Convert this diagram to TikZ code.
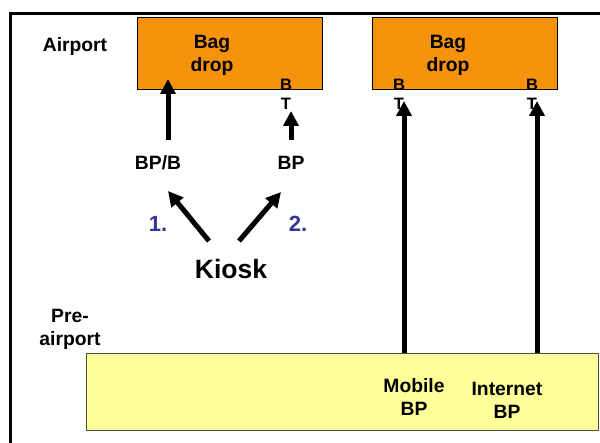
\documentclass[tikz,border=0pt]{standalone}
\usepackage{fontspec}
\setmainfont{Liberation Sans}
\usetikzlibrary{arrows.meta}
\definecolor{bagorange}{RGB}{247,146,12}
\definecolor{preyellow}{RGB}{255,255,153}
\definecolor{stepblue}{RGB}{51,51,153}
\begin{document}
\begin{tikzpicture}[x=1pt,y=-1pt,
  lbl/.style={font=\bfseries\fontsize{19.3}{23}\selectfont, align=center, inner sep=0pt},
  tiny/.style={font=\bfseries\fontsize{16.5}{19}\selectfont, align=center, inner sep=0pt},
  big/.style={font=\bfseries\fontsize{26.5}{30}\selectfont, inner sep=0pt},
  num/.style={font=\bfseries\fontsize{22}{26}\selectfont, text=stepblue, inner sep=0pt},
  dropbox/.style={draw=black, line width=0.8pt, fill=bagorange, anchor=north west,
                  minimum width=185pt, minimum height=72pt, inner sep=0pt},
  prebox/.style={draw=black!70, line width=1.2pt, fill=preyellow, anchor=north west,
                 minimum width=512pt, minimum height=77pt, inner sep=0pt},
  arr/.style={line width=5pt, -{Triangle[width=15pt,length=15pt]}}]

\useasboundingbox (0,0) rectangle (600,443);

% frame
\draw[line width=3pt] (10.5,443) -- (10.5,13.5) -- (600,13.5);

% zone labels
\node[lbl] (airport) at (75,47) {Airport};
\node[lbl] (preairport) at (70,329) {Pre-\\airport};

% boxes
\node[dropbox] (drop1) at (137,17) {};
\node[dropbox] (drop2) at (372,17) {};
\node[prebox] (pre) at (86,353) {};

\node[lbl] (bag1) at (212,55) {Bag\\drop};
\node[lbl] (bag2) at (448,55) {Bag\\drop};

% boarding-ticket marks
\node[tiny] (bt1) at (286,94) {B\\T};
\node[tiny] (bt2) at (399,94) {B\\T};
\node[tiny] (bt3) at (532,94) {B\\T};

% kiosk outputs
\node[lbl] (bpb) at (158,163) {BP/B};
\node[lbl] (bp) at (291,163) {BP};
\node[big] (kiosk) at (231,269) {Kiosk};
\node[num] (one) at (158,224) {1.};
\node[num] (two) at (298,224) {2.};

% pre-airport channels
\node[lbl] (mobile) at (414,397) {Mobile\\BP};
\node[lbl] (internet) at (507,400) {Internet\\BP};

% arrow end points
\coordinate (bpbfoot) at (168,140);
\coordinate (bpbtip) at (168,79);
\coordinate (bpfoot) at (291,140);
\coordinate (bptip) at (291,111);
\coordinate (kfootl) at (209,241);
\coordinate (ktipl) at (168,191);
\coordinate (kfootr) at (239,241);
\coordinate (ktipr) at (281,192);
\coordinate (mtip) at (404,101);
\coordinate (itip) at (537,101);

\draw[arr] (bpbfoot) -- (bpbtip);
\draw[arr] (bpfoot) -- (bptip);
\draw[arr] (kfootl) -- (ktipl);
\draw[arr] (kfootr) -- (ktipr);
\draw[arr] (mtip |- pre.north) -- (mtip);
\draw[arr] (itip |- pre.north) -- (itip);
\end{tikzpicture}
\end{document}
